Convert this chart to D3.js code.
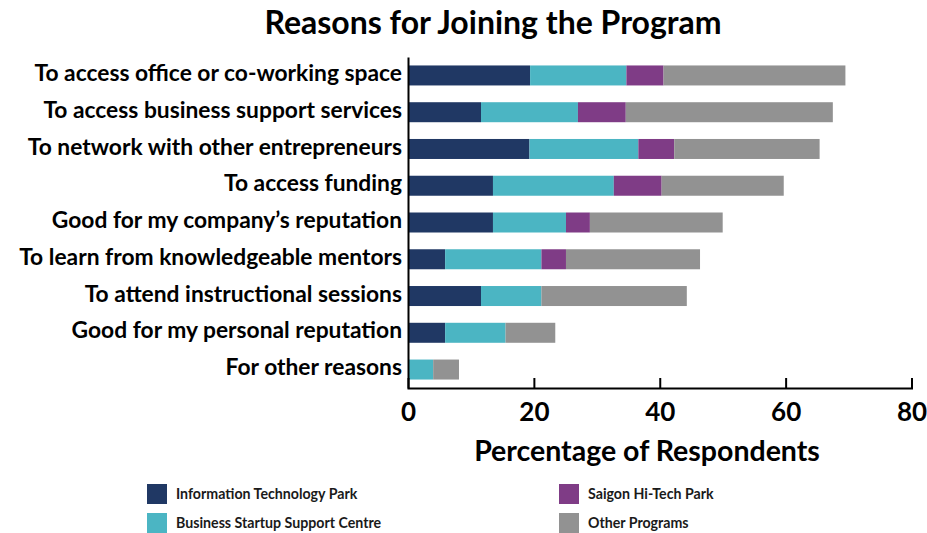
<!DOCTYPE html>
<html>
<head>
<meta charset="utf-8">
<script src="https://cdn.jsdelivr.net/npm/d3@7"></script>
<style>
  html, body { margin: 0; padding: 0; background: #ffffff; }
  svg { display: block; font-family: Lato, "Open Sans", sans-serif; }
</style>
</head>
<body>
<svg id="chart" width="927" height="533"></svg>
<script>
// Reasons for joining, top to bottom
const categories = [
  "To access office or co-working space",
  "To access business support services",
  "To network with other entrepreneurs",
  "To access funding",
  "Good for my company\u2019s reputation",
  "To learn from knowledgeable mentors",
  "To attend instructional sessions",
  "Good for my personal reputation",
  "For other reasons"
];

// Share of respondents (%) per program, one value per reason
const itPark       = [19.4, 11.6, 19.3, 13.5, 13.5, 5.9, 11.6, 5.9, 0];
const bssc         = [15.3, 15.4, 17.3, 19.2, 11.6, 15.3, 9.6, 9.6, 4.0];
const saigonHiTech = [5.9, 7.6, 5.7, 7.6, 3.8, 3.9, 0, 0, 0];
const otherProgs   = [28.9, 32.9, 23.1, 19.4, 21.1, 21.3, 23.1, 7.9, 4.1];

const seriesNames = [
  "Information Technology Park",
  "Business Startup Support Centre",
  "Saigon Hi-Tech Park",
  "Other Programs"
];
const seriesColors = ["#203864", "#4bb5c3", "#7f3c86", "#929292"];
const xTicks = [0, 20, 40, 60, 80];

const svg = d3.select("#chart");
const margin = { left: 408, top: 57, axisY: 388, right: 911.5 };

const rows = categories.map((c, i) => ({
  category: c,
  s0: itPark[i], s1: bssc[i], s2: saigonHiTech[i], s3: otherProgs[i]
}));
const keys = ["s0", "s1", "s2", "s3"];
const stacked = d3.stack().keys(keys)(rows);

const x = d3.scaleLinear().domain([0, 80]).range([margin.left, margin.right]);
const y = d3.scaleBand().domain(categories)
  .range([margin.top, margin.axisY]).paddingInner(0.456).paddingOuter(0.23);

// Title
svg.append("text")
  .attr("x", 493).attr("y", 34)
  .attr("text-anchor", "middle")
  .attr("font-size", 32).attr("font-weight", 700).attr("fill", "#000")
  .text("Reasons for Joining the Program");

// Stacked bars
svg.append("g").selectAll("g").data(stacked).join("g")
  .attr("fill", (d, i) => seriesColors[i])
  .selectAll("rect").data(d => d.filter(p => p[1] - p[0] > 0)).join("rect")
  .attr("x", d => x(d[0]))
  .attr("width", d => x(d[1]) - x(d[0]))
  .attr("y", d => y(d.data.category))
  .attr("height", y.bandwidth());

// X axis with ticks pointing up into the plot
const xAxis = svg.append("g")
  .attr("transform", `translate(0,${margin.axisY})`)
  .call(d3.axisBottom(x).tickValues(xTicks).tickSizeInner(-10).tickSizeOuter(-10).tickPadding(15));
xAxis.select(".domain").attr("stroke", "#000").attr("stroke-width", 2);
xAxis.selectAll(".tick line").attr("stroke", "#000").attr("stroke-width", 2);
xAxis.selectAll(".tick text")
  .attr("font-family", "Lato, sans-serif")
  .attr("font-size", 26).attr("font-weight", 700).attr("fill", "#000");
xAxis.selectAll(".tick").filter(d => d === 0).select("line").remove();

// Y axis: vertical line and category labels
const yAxis = svg.append("g")
  .attr("transform", `translate(${margin.left},0)`)
  .call(d3.axisLeft(y).tickSize(0).tickPadding(6));
yAxis.select(".domain").attr("stroke", "#000").attr("stroke-width", 2);
yAxis.selectAll(".tick text")
  .attr("dy", "0.25em")
  .attr("font-family", "Lato, sans-serif")
  .attr("font-size", 22.8).attr("font-weight", 700).attr("fill", "#000");

// X axis title
svg.append("text")
  .attr("x", 647).attr("y", 461)
  .attr("text-anchor", "middle")
  .attr("font-size", 28.5).attr("font-weight", 700).attr("fill", "#000")
  .text("Percentage of Respondents");

// Legend: two columns, two rows
const legendPos = [
  { x: 147, y: 484 }, { x: 147, y: 513 },
  { x: 559, y: 484 }, { x: 559, y: 513 }
];
const legend = svg.append("g").selectAll("g").data(seriesNames).join("g")
  .attr("transform", (d, i) => `translate(${legendPos[i].x},${legendPos[i].y})`);
legend.append("rect")
  .attr("width", 20).attr("height", 20)
  .attr("fill", (d, i) => seriesColors[i]);
legend.append("text")
  .attr("x", 29).attr("y", 15)
  .attr("font-size", 14.2).attr("font-weight", 700).attr("fill", "#1a1a1a")
  .text(d => d);
</script>
</body>
</html>
